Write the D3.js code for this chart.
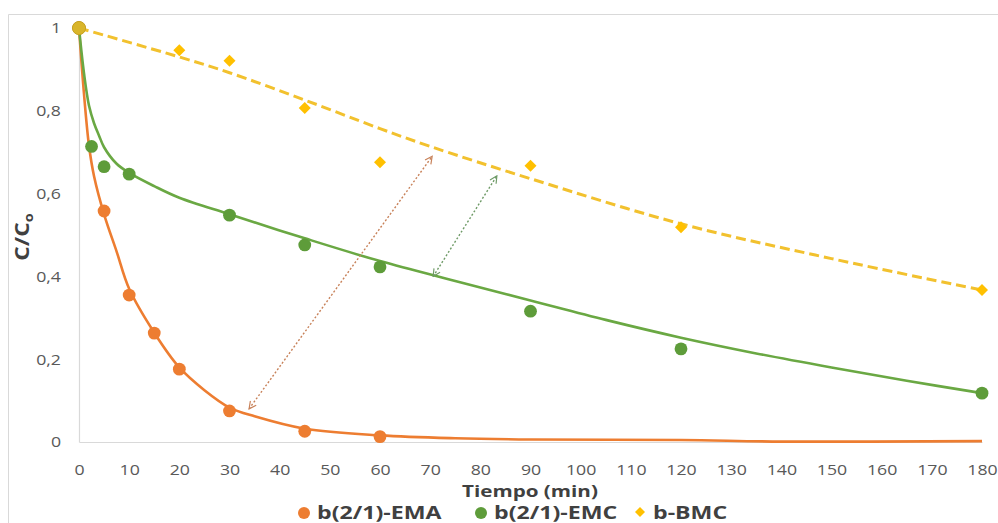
<!DOCTYPE html>
<html>
<head>
<meta charset="utf-8">
<script src="https://cdn.jsdelivr.net/npm/d3@7"></script>
<style>
  html, body { margin: 0; padding: 0; background: #fff; }
  svg { display: block; font-family: "Open Sans", "Liberation Sans", sans-serif; }
</style>
</head>
<body>
<svg id="chart" width="998" height="523"></svg>
<script>
// Measured concentrations (C/Co) versus time (min)
const timeEMA = [0, 5, 10, 15, 20, 30, 45, 60];
const valEMA  = [1, 0.558, 0.355, 0.263, 0.176, 0.075, 0.026, 0.013];
const timeEMC = [0, 2.5, 5, 10, 30, 45, 60, 90, 120, 180];
const valEMC  = [1, 0.714, 0.665, 0.647, 0.548, 0.476, 0.423, 0.316, 0.225, 0.118];
const timeBMC = [0, 20, 30, 45, 60, 90, 120, 180];
const valBMC  = [1, 0.946, 0.921, 0.807, 0.676, 0.667, 0.519, 0.367];

// Fitted kinetic curves
const fitTimeEMA = [0, 1, 2, 3, 5, 7.5, 10, 15, 20, 25, 30, 35, 45, 60, 75, 90, 120, 140, 180];
const fitEMA     = [1, 0.84, 0.715, 0.642, 0.55, 0.46, 0.37, 0.264, 0.18, 0.125, 0.083, 0.062, 0.032, 0.016, 0.009, 0.006, 0.005, 0.001, 0.002];
const fitTimeEMC = [0, 1, 2, 3, 4, 5, 7.5, 10, 15, 20, 30, 45, 60, 75, 90, 105, 120, 135, 150, 165, 180];
const fitEMC     = [1, 0.89, 0.812, 0.77, 0.74, 0.712, 0.672, 0.65, 0.618, 0.59, 0.55, 0.492, 0.437, 0.389, 0.342, 0.295, 0.252, 0.214, 0.18, 0.148, 0.118];
const fitTimeBMC = [0, 20, 30, 45, 60, 70, 90, 120, 150, 180];
const fitBMC     = [1, 0.93, 0.892, 0.826, 0.757, 0.714, 0.636, 0.527, 0.443, 0.367];

const seriesNames = ["b(2/1)-EMA", "b(2/1)-EMC", "b-BMC"];
const xTickValues = [0, 10, 20, 30, 40, 50, 60, 70, 80, 90, 100, 110, 120, 130, 140, 150, 160, 170, 180];
const yTickValues = [0, 0.2, 0.4, 0.6, 0.8, 1];

// Double-headed gap arrows: [t1, c1, t2, c2]
const gapEMA = [33.9, 0.08, 70.4, 0.69];
const gapEMC = [70.6, 0.40, 83.3, 0.643];

const colEMA = "#ED7D31", colEMC = "#6AA843", colBMC = "#FFC000";
const sx = 1.18; // horizontal text stretch

const svg = d3.select("#chart");
const x = d3.scaleLinear().domain([0, 180]).range([79, 982]);
const y = d3.scaleLinear().domain([0, 1]).range([442, 28]);

// chart frame (top and left edges)
svg.append("path").attr("d", "M8.5,523 V14.5 H998").attr("fill", "none").attr("stroke", "#d9d9d9").attr("stroke-width", 1);

// arrow markers
const defs = svg.append("defs");
function addMarker(id, color) {
  defs.append("marker").attr("id", id)
    .attr("viewBox", "0 0 10 10").attr("refX", 9).attr("refY", 5)
    .attr("markerWidth", 9).attr("markerHeight", 9).attr("markerUnits", "userSpaceOnUse")
    .attr("orient", "auto-start-reverse")
    .append("path").attr("d", "M1,1 L9,5 L1,9").attr("fill", "none")
    .attr("stroke", color).attr("stroke-width", 1.3);
}
addMarker("arrEMA", "#C8825A");
addMarker("arrEMC", "#6E9A66");

// axes
const xAxis = svg.append("g").attr("transform", `translate(0,${y(0)})`)
  .call(d3.axisBottom(x).tickValues(xTickValues).tickSize(0).tickPadding(22).tickFormat(d3.format("d")));
const yAxis = svg.append("g").attr("transform", `translate(${x(0)},0)`)
  .call(d3.axisLeft(y).tickValues(yTickValues).tickSize(0).tickPadding(18)
    .tickFormat(d => d === 0 || d === 1 ? String(d) : d3.format(".1f")(d).replace(".", ",")));
[xAxis, yAxis].forEach(a => {
  a.select(".domain").attr("stroke", "#d9d9d9").attr("stroke-width", 1.2);
  a.selectAll("text").attr("font-size", 15).attr("fill", "#595959")
    .attr("font-family", "\"Open Sans\", sans-serif");
});
xAxis.selectAll("text").attr("transform", `scale(${sx},1)`).attr("x", 0);
yAxis.selectAll("text").each(function () {
  const t = d3.select(this);
  t.attr("x", null).attr("transform", `translate(-18,0) scale(${sx},1)`);
});

// axis titles
svg.append("text").attr("transform", `translate(530,497) scale(1.25,1)`)
  .attr("text-anchor", "middle").attr("font-size", 16.5).attr("font-weight", 700).attr("fill", "#404040")
  .text("Tiempo (min)");
const yt = svg.append("text").attr("transform", `translate(29,237) rotate(-90) scale(1.2,1)`)
  .attr("text-anchor", "middle").attr("font-size", 19).attr("font-weight", 700).attr("fill", "#404040");
yt.append("tspan").text("C/C");
yt.append("tspan").attr("font-size", 12).attr("dy", 4).text("o");

// fitted curves
const line = d3.line().x(d => x(d[0])).y(d => y(d[1])).curve(d3.curveCatmullRom.alpha(0.5));
const zip = (a, b) => a.map((v, i) => [v, b[i]]);
svg.append("path").datum(zip(fitTimeEMA, fitEMA)).attr("d", line)
  .attr("fill", "none").attr("stroke", colEMA).attr("stroke-width", 2.6);
svg.append("path").datum(zip(fitTimeEMC, fitEMC)).attr("d", line)
  .attr("fill", "none").attr("stroke", colEMC).attr("stroke-width", 2.6);
svg.append("path").datum(zip(fitTimeBMC, fitBMC)).attr("d", line)
  .attr("fill", "none").attr("stroke", "#F2C12E").attr("stroke-width", 3).attr("stroke-dasharray", "10,5");

// gap arrows
function gapArrow(g, color, marker) {
  svg.append("line")
    .attr("x1", x(g[0])).attr("y1", y(g[1])).attr("x2", x(g[2])).attr("y2", y(g[3]))
    .attr("stroke", color).attr("stroke-width", 1.4).attr("stroke-dasharray", "2,2")
    .attr("marker-start", `url(#${marker})`).attr("marker-end", `url(#${marker})`);
}
gapArrow(gapEMA, "#C8825A", "arrEMA");
gapArrow(gapEMC, "#6E9A66", "arrEMC");

// measured points
svg.append("g").selectAll("circle").data(zip(timeEMA, valEMA)).join("circle")
  .attr("cx", d => x(d[0])).attr("cy", d => y(d[1])).attr("r", 6.4).attr("fill", colEMA);
svg.append("g").selectAll("circle").data(zip(timeEMC, valEMC)).join("circle")
  .attr("cx", d => x(d[0])).attr("cy", d => y(d[1])).attr("r", 6.4).attr("fill", "#5E9C3A");
const diamond = d3.symbol().type(d3.symbolSquare).size(72);
svg.append("g").selectAll("path").data(zip(timeBMC, valBMC)).join("path")
  .attr("d", diamond)
  .attr("transform", d => `translate(${x(d[0])},${y(d[1])}) rotate(45)`)
  .attr("fill", colBMC);
// overlapping start point
svg.append("circle").attr("cx", x(0)).attr("cy", y(1)).attr("r", 6.6)
  .attr("fill", "#D9B52A").attr("stroke", "#C8A224").attr("stroke-width", 1);

// legend
const legendX = [304, 481, 640];
const legendCol = [colEMA, "#5E9C3A", colBMC];
seriesNames.forEach((name, i) => {
  if (i < 2) {
    svg.append("circle").attr("cx", legendX[i]).attr("cy", 513).attr("r", 6).attr("fill", legendCol[i]);
  } else {
    svg.append("path").attr("d", d3.symbol().type(d3.symbolSquare).size(50))
      .attr("transform", `translate(${legendX[i]},512) rotate(45)`).attr("fill", legendCol[i]);
  }
  svg.append("text").attr("transform", `translate(${legendX[i] + 13},519) scale(1.25,1)`)
    .attr("font-size", 18.5).attr("font-weight", 700).attr("fill", "#404040").text(name);
});
</script>
</body>
</html>
